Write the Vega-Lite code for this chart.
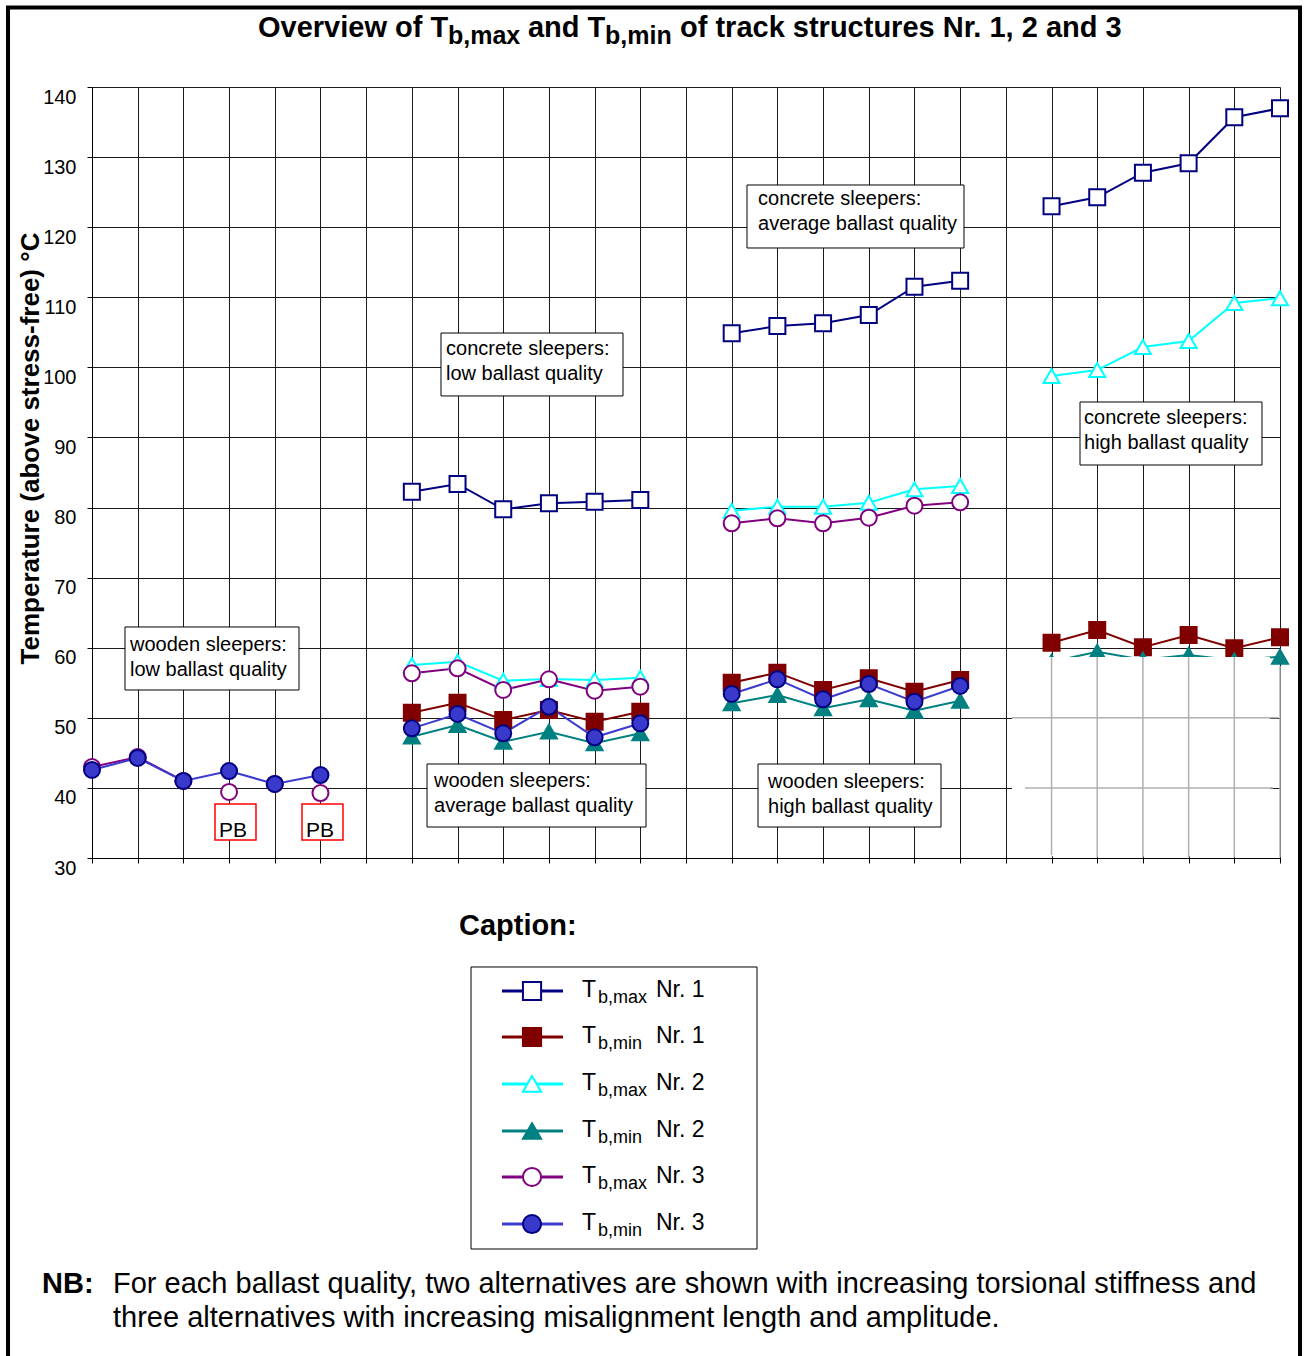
{
  "$schema": "https://vega.github.io/schema/vega-lite/v6.json",
  "width": 1188,
  "height": 771,
  "autosize": {"type": "none"},
  "padding": {"left": 92, "top": 87, "right": 29, "bottom": 498},
  "background": "white",
  "resolve": {"axis": {"x": "independent", "y": "independent"}},
  "config": {
    "font": "Liberation Sans",
    "view": {"stroke": null},
    "axis": {
      "gridColor": "#1a1a1a", "gridOpacity": 1, "gridWidth": 1,
      "domainColor": "#000", "domainWidth": 1,
      "tickColor": "#000", "tickSize": 5,
      "labelColor": "#000", "labelFont": "Liberation Sans",
      "titleColor": "#000", "titleFont": "Liberation Sans"
    }
  },
  "datasets": {
    "pts": [
      {"s": "Tb,max Nr. 1", "g": "2", "x": 7, "v": 82.26}, {"s": "Tb,max Nr. 1", "g": "2", "x": 8, "v": 83.36}, {"s": "Tb,max Nr. 1", "g": "2", "x": 9, "v": 79.75}, {"s": "Tb,max Nr. 1", "g": "2", "x": 10, "v": 80.6}, {"s": "Tb,max Nr. 1", "g": "2", "x": 11, "v": 80.84}, {"s": "Tb,max Nr. 1", "g": "2", "x": 12, "v": 81.08},
      {"s": "Tb,max Nr. 1", "g": "3", "x": 14, "v": 104.86}, {"s": "Tb,max Nr. 1", "g": "3", "x": 15, "v": 105.9}, {"s": "Tb,max Nr. 1", "g": "3", "x": 16, "v": 106.29}, {"s": "Tb,max Nr. 1", "g": "3", "x": 17, "v": 107.47}, {"s": "Tb,max Nr. 1", "g": "3", "x": 18, "v": 111.51}, {"s": "Tb,max Nr. 1", "g": "3", "x": 19, "v": 112.37},
      {"s": "Tb,max Nr. 1", "g": "4", "x": 21, "v": 123.0}, {"s": "Tb,max Nr. 1", "g": "4", "x": 22, "v": 124.26}, {"s": "Tb,max Nr. 1", "g": "4", "x": 23, "v": 127.77}, {"s": "Tb,max Nr. 1", "g": "4", "x": 24, "v": 129.11}, {"s": "Tb,max Nr. 1", "g": "4", "x": 25, "v": 135.68}, {"s": "Tb,max Nr. 1", "g": "4", "x": 26, "v": 136.96},
      {"s": "Tb,min Nr. 1", "g": "2", "x": 7, "v": 50.73}, {"s": "Tb,min Nr. 1", "g": "2", "x": 8, "v": 52.16}, {"s": "Tb,min Nr. 1", "g": "2", "x": 9, "v": 49.69}, {"s": "Tb,min Nr. 1", "g": "2", "x": 10, "v": 51.12}, {"s": "Tb,min Nr. 1", "g": "2", "x": 11, "v": 49.45}, {"s": "Tb,min Nr. 1", "g": "2", "x": 12, "v": 50.87},
      {"s": "Tb,min Nr. 1", "g": "3", "x": 14, "v": 55.01}, {"s": "Tb,min Nr. 1", "g": "3", "x": 15, "v": 56.44}, {"s": "Tb,min Nr. 1", "g": "3", "x": 16, "v": 53.97}, {"s": "Tb,min Nr. 1", "g": "3", "x": 17, "v": 55.64}, {"s": "Tb,min Nr. 1", "g": "3", "x": 18, "v": 53.73}, {"s": "Tb,min Nr. 1", "g": "3", "x": 19, "v": 55.4},
      {"s": "Tb,min Nr. 1", "g": "4", "x": 21, "v": 60.72}, {"s": "Tb,min Nr. 1", "g": "4", "x": 22, "v": 62.53}, {"s": "Tb,min Nr. 1", "g": "4", "x": 23, "v": 60.06}, {"s": "Tb,min Nr. 1", "g": "4", "x": 24, "v": 61.82}, {"s": "Tb,min Nr. 1", "g": "4", "x": 25, "v": 59.92}, {"s": "Tb,min Nr. 1", "g": "4", "x": 26, "v": 61.49},
      {"s": "Tb,max Nr. 2", "g": "2", "x": 7, "v": 57.54}, {"s": "Tb,max Nr. 2", "g": "2", "x": 8, "v": 58.0}, {"s": "Tb,max Nr. 2", "g": "2", "x": 9, "v": 55.3}, {"s": "Tb,max Nr. 2", "g": "2", "x": 10, "v": 55.54}, {"s": "Tb,max Nr. 2", "g": "2", "x": 11, "v": 55.4}, {"s": "Tb,max Nr. 2", "g": "2", "x": 12, "v": 55.72},
      {"s": "Tb,max Nr. 2", "g": "3", "x": 14, "v": 79.55}, {"s": "Tb,max Nr. 2", "g": "3", "x": 15, "v": 80.12}, {"s": "Tb,max Nr. 2", "g": "3", "x": 16, "v": 80.12}, {"s": "Tb,max Nr. 2", "g": "3", "x": 17, "v": 80.69}, {"s": "Tb,max Nr. 2", "g": "3", "x": 18, "v": 82.6}, {"s": "Tb,max Nr. 2", "g": "3", "x": 19, "v": 83.07},
      {"s": "Tb,max Nr. 2", "g": "4", "x": 21, "v": 98.77}, {"s": "Tb,max Nr. 2", "g": "4", "x": 22, "v": 99.62}, {"s": "Tb,max Nr. 2", "g": "4", "x": 23, "v": 102.9}, {"s": "Tb,max Nr. 2", "g": "4", "x": 24, "v": 103.76}, {"s": "Tb,max Nr. 2", "g": "4", "x": 25, "v": 109.18}, {"s": "Tb,max Nr. 2", "g": "4", "x": 26, "v": 109.86},
      {"s": "Tb,min Nr. 2", "g": "2", "x": 7, "v": 47.31}, {"s": "Tb,min Nr. 2", "g": "2", "x": 8, "v": 48.98}, {"s": "Tb,min Nr. 2", "g": "2", "x": 9, "v": 46.59}, {"s": "Tb,min Nr. 2", "g": "2", "x": 10, "v": 48.02}, {"s": "Tb,min Nr. 2", "g": "2", "x": 11, "v": 46.36}, {"s": "Tb,min Nr. 2", "g": "2", "x": 12, "v": 47.79},
      {"s": "Tb,min Nr. 2", "g": "3", "x": 14, "v": 52.07}, {"s": "Tb,min Nr. 2", "g": "3", "x": 15, "v": 53.26}, {"s": "Tb,min Nr. 2", "g": "3", "x": 16, "v": 51.36}, {"s": "Tb,min Nr. 2", "g": "3", "x": 17, "v": 52.64}, {"s": "Tb,min Nr. 2", "g": "3", "x": 18, "v": 51.01}, {"s": "Tb,min Nr. 2", "g": "3", "x": 19, "v": 52.44},
      {"s": "Tb,min Nr. 2", "g": "4", "x": 21, "v": 58.0}, {"s": "Tb,min Nr. 2", "g": "4", "x": 22, "v": 59.43}, {"s": "Tb,min Nr. 2", "g": "4", "x": 23, "v": 58.3}, {"s": "Tb,min Nr. 2", "g": "4", "x": 24, "v": 58.96}, {"s": "Tb,min Nr. 2", "g": "4", "x": 25, "v": 58.2}, {"s": "Tb,min Nr. 2", "g": "4", "x": 26, "v": 58.72},
      {"s": "Tb,max Nr. 3", "g": "1", "x": 0, "v": 42.98}, {"s": "Tb,max Nr. 3", "g": "1", "x": 1, "v": 44.41}, {"s": "Tb,max Nr. 3", "g": "1", "x": 2, "v": 40.99}, {"s": "Tb,max Nr. 3", "g": "pb3", "x": 3, "v": 39.42}, {"s": "Tb,max Nr. 3", "g": "e4", "x": 4, "v": 40.56}, {"s": "Tb,max Nr. 3", "g": "pb5", "x": 5, "v": 39.27},
      {"s": "Tb,max Nr. 3", "g": "2", "x": 7, "v": 56.35}, {"s": "Tb,max Nr. 3", "g": "2", "x": 8, "v": 57.06}, {"s": "Tb,max Nr. 3", "g": "2", "x": 9, "v": 53.97}, {"s": "Tb,max Nr. 3", "g": "2", "x": 10, "v": 55.5}, {"s": "Tb,max Nr. 3", "g": "2", "x": 11, "v": 53.87}, {"s": "Tb,max Nr. 3", "g": "2", "x": 12, "v": 54.44},
      {"s": "Tb,max Nr. 3", "g": "3", "x": 14, "v": 77.75}, {"s": "Tb,max Nr. 3", "g": "3", "x": 15, "v": 78.47}, {"s": "Tb,max Nr. 3", "g": "3", "x": 16, "v": 77.75}, {"s": "Tb,max Nr. 3", "g": "3", "x": 17, "v": 78.55}, {"s": "Tb,max Nr. 3", "g": "3", "x": 18, "v": 80.26}, {"s": "Tb,max Nr. 3", "g": "3", "x": 19, "v": 80.75},
      {"s": "Tb,min Nr. 3", "g": "1", "x": 0, "v": 42.56}, {"s": "Tb,min Nr. 3", "g": "1", "x": 1, "v": 44.27}, {"s": "Tb,min Nr. 3", "g": "1", "x": 2, "v": 40.99}, {"s": "Tb,min Nr. 3", "g": "1", "x": 3, "v": 42.41}, {"s": "Tb,min Nr. 3", "g": "1", "x": 4, "v": 40.56}, {"s": "Tb,min Nr. 3", "g": "1", "x": 5, "v": 41.84},
      {"s": "Tb,min Nr. 3", "g": "2", "x": 7, "v": 48.5}, {"s": "Tb,min Nr. 3", "g": "2", "x": 8, "v": 50.55}, {"s": "Tb,min Nr. 3", "g": "2", "x": 9, "v": 47.79}, {"s": "Tb,min Nr. 3", "g": "2", "x": 10, "v": 51.59}, {"s": "Tb,min Nr. 3", "g": "2", "x": 11, "v": 47.22}, {"s": "Tb,min Nr. 3", "g": "2", "x": 12, "v": 49.22},
      {"s": "Tb,min Nr. 3", "g": "3", "x": 14, "v": 53.4}, {"s": "Tb,min Nr. 3", "g": "3", "x": 15, "v": 55.5}, {"s": "Tb,min Nr. 3", "g": "3", "x": 16, "v": 52.64}, {"s": "Tb,min Nr. 3", "g": "3", "x": 17, "v": 54.82}, {"s": "Tb,min Nr. 3", "g": "3", "x": 18, "v": 52.3}, {"s": "Tb,min Nr. 3", "g": "3", "x": 19, "v": 54.54}
    ],
    "legend": [
      {"s": "Tb,max Nr. 1", "sub": "b,max", "nr": "Nr. 1", "ly": 11.02},
      {"s": "Tb,min Nr. 1", "sub": "b,min", "nr": "Nr. 1", "ly": 4.46},
      {"s": "Tb,max Nr. 2", "sub": "b,max", "nr": "Nr. 2", "ly": -2.24},
      {"s": "Tb,min Nr. 2", "sub": "b,min", "nr": "Nr. 2", "ly": -8.95},
      {"s": "Tb,max Nr. 3", "sub": "b,max", "nr": "Nr. 3", "ly": -15.51},
      {"s": "Tb,min Nr. 3", "sub": "b,min", "nr": "Nr. 3", "ly": -22.22}
    ],
    "boxes": [
      {"label": "wooden sleepers:\nlow ballast quality", "x1": 0.722, "x2": 4.53, "y1": 62.96, "y2": 53.97, "tx": 0.832, "ty": 59.53},
      {"label": "concrete sleepers:\nlow ballast quality", "x1": 7.638, "x2": 11.621, "y1": 104.9, "y2": 95.92, "tx": 7.748, "ty": 101.76},
      {"label": "concrete sleepers:\naverage ballast quality", "x1": 14.335, "x2": 19.084, "y1": 126.02, "y2": 117.03, "tx": 14.576, "ty": 123.17},
      {"label": "concrete sleepers:\nhigh ballast quality", "x1": 21.623, "x2": 25.606, "y1": 95.06, "y2": 86.07, "tx": 21.711, "ty": 91.92},
      {"label": "wooden sleepers:\naverage ballast quality", "x1": 7.332, "x2": 12.125, "y1": 43.41, "y2": 34.42, "tx": 7.485, "ty": 40.13},
      {"label": "wooden sleepers:\nhigh ballast quality", "x1": 14.576, "x2": 18.581, "y1": 43.41, "y2": 34.42, "tx": 14.795, "ty": 39.99}
    ],
    "pb": [
      {"label": "PB", "x1": 2.692, "x2": 3.589, "y1": 37.7, "y2": 32.57, "tx": 2.779, "ty": 33.0},
      {"label": "PB", "x1": 4.596, "x2": 5.493, "y1": 37.7, "y2": 32.57, "tx": 4.683, "ty": 33.0}
    ],
    "graylines": [
      {"x": 21, "x2": 21, "y": 30.4, "y2": 58.68},
      {"x": 22, "x2": 22, "y": 30.1, "y2": 58.68},
      {"x": 23, "x2": 23, "y": 30.1, "y2": 58.68},
      {"x": 24, "x2": 24, "y": 30.1, "y2": 58.68},
      {"x": 25, "x2": 25, "y": 30.1, "y2": 58.68},
      {"x": 26, "x2": 26, "y": 30.1, "y2": 57.4},
      {"x": 20.135, "x2": 25.96, "y": 50, "y2": 50},
      {"x": 20.42, "x2": 25.85, "y": 40, "y2": 40}
    ],
    "title_main": [
      {"t": "Overview of T", "x": 3.633},
      {"t": "and T", "x": 9.542},
      {"t": "of track structures Nr. 1, 2 and 3", "x": 12.869}
    ],
    "title_sub": [
      {"t": "b,max", "x": 7.791},
      {"t": "b,min", "x": 11.228}
    ]
  },
  "layer": [
    {
      "data": {"name": "pts"},
      "mark": {"type": "line", "strokeWidth": 2},
      "encoding": {
        "x": {"field": "x", "type": "quantitative", "scale": {"domain": [0, 26], "nice": false, "zero": false},
              "axis": {"values": [0,1,2,3,4,5,6,7,8,9,10,11,12,13,14,15,16,17,18,19,20,21,22,23,24,25,26], "labels": false, "title": null, "grid": true, "ticks": true, "domain": true}},
        "y": {"field": "v", "type": "quantitative", "scale": {"domain": [30, 140], "nice": false, "zero": false},
              "axis": {"values": [30,40,50,60,70,80,90,100,110,120,130,140], "grid": true, "labelFontSize": 20, "labelPadding": 11, "labelOffset": 10, "labelOverlap": false,
                       "title": "Temperature (above stress-free) °C", "titleFontSize": 26, "titleFontWeight": "bold",
                       "titleX": -62, "titleY": 361, "titleAngle": 270, "titleAlign": "center", "titleBaseline": "middle"}},
        "color": {"field": "s", "type": "nominal", "legend": null,
                  "scale": {"domain": ["Tb,max Nr. 1", "Tb,min Nr. 1", "Tb,max Nr. 2", "Tb,min Nr. 2", "Tb,max Nr. 3", "Tb,min Nr. 3"],
                            "range": ["#000080", "#800000", "#00FFFF", "#008080", "#800080", "#3b3bd0"]}},
        "detail": {"field": "g"}
      }
    },
    {
      "data": {"name": "boxes"},
      "mark": {"type": "rect", "fill": "white", "stroke": "#000", "strokeWidth": 1},
      "encoding": {
        "x": {"field": "x1", "type": "quantitative", "axis": null},
        "x2": {"field": "x2"},
        "y": {"field": "y1", "type": "quantitative", "axis": null},
        "y2": {"field": "y2"}
      }
    },
    {
      "data": {"name": "pb"},
      "mark": {"type": "rect", "fill": "white", "stroke": "#ff0000", "strokeWidth": 1.5},
      "encoding": {
        "x": {"field": "x1", "type": "quantitative", "axis": null},
        "x2": {"field": "x2"},
        "y": {"field": "y1", "type": "quantitative", "axis": null},
        "y2": {"field": "y2"}
      }
    },
    {
      "data": {"name": "pts"},
      "mark": {"type": "point", "filled": true, "strokeWidth": 2, "opacity": 1},
      "encoding": {
        "x": {"field": "x", "type": "quantitative", "axis": null},
        "y": {"field": "v", "type": "quantitative", "axis": null},
        "shape": {"field": "s", "type": "nominal", "legend": null,
                  "scale": {"domain": ["Tb,max Nr. 1", "Tb,min Nr. 1", "Tb,max Nr. 2", "Tb,min Nr. 2", "Tb,max Nr. 3", "Tb,min Nr. 3"],
                            "range": ["square", "square", "triangle-up", "triangle-up", "circle", "circle"]}},
        "fill": {"field": "s", "type": "nominal", "legend": null,
                 "scale": {"domain": ["Tb,max Nr. 1", "Tb,min Nr. 1", "Tb,max Nr. 2", "Tb,min Nr. 2", "Tb,max Nr. 3", "Tb,min Nr. 3"],
                           "range": ["#ffffff", "#800000", "#ffffff", "#008080", "#ffffff", "#3939cc"]}},
        "stroke": {"field": "s", "type": "nominal", "legend": null,
                   "scale": {"domain": ["Tb,max Nr. 1", "Tb,min Nr. 1", "Tb,max Nr. 2", "Tb,min Nr. 2", "Tb,max Nr. 3", "Tb,min Nr. 3"],
                             "range": ["#000080", "#800000", "#00FFFF", "#008080", "#800080", "#000080"]}},
        "size": {"field": "s", "type": "nominal", "legend": null,
                 "scale": {"domain": ["Tb,max Nr. 1", "Tb,min Nr. 1", "Tb,max Nr. 2", "Tb,min Nr. 2", "Tb,max Nr. 3", "Tb,min Nr. 3"],
                           "range": [256, 256, 260, 260, 240, 225]}}
      }
    },
    {
      "data": {"values": [{}]},
      "mark": {"type": "rect", "fill": "white", "stroke": null},
      "encoding": {
        "x": {"datum": 20.135, "type": "quantitative", "axis": null},
        "x2": {"datum": 25.78},
        "y": {"datum": 30.25, "type": "quantitative", "axis": null},
        "y2": {"datum": 58.68}
      }
    },
    {
      "data": {"name": "graylines"},
      "mark": {"type": "rule", "color": "#b0b0b0", "strokeWidth": 1.5},
      "encoding": {
        "x": {"field": "x", "type": "quantitative", "axis": null},
        "x2": {"field": "x2"},
        "y": {"field": "y", "type": "quantitative", "axis": null},
        "y2": {"field": "y2"}
      }
    },
    {
      "data": {"name": "boxes"},
      "mark": {"type": "text", "align": "left", "baseline": "alphabetic", "fontSize": 20, "lineHeight": 25, "lineBreak": "\n", "color": "#000"},
      "encoding": {
        "x": {"field": "tx", "type": "quantitative", "axis": null},
        "y": {"field": "ty", "type": "quantitative", "axis": null},
        "text": {"field": "label"}
      }
    },
    {
      "data": {"name": "pb"},
      "mark": {"type": "text", "align": "left", "baseline": "alphabetic", "fontSize": 21, "color": "#000"},
      "encoding": {
        "x": {"field": "tx", "type": "quantitative", "axis": null},
        "y": {"field": "ty", "type": "quantitative", "axis": null},
        "text": {"field": "label"}
      }
    },
    {
      "data": {"name": "title_main"},
      "mark": {"type": "text", "align": "left", "baseline": "alphabetic", "fontSize": 29, "fontWeight": "bold", "color": "#000"},
      "encoding": {
        "x": {"field": "x", "type": "quantitative", "axis": null},
        "y": {"datum": 147.14, "type": "quantitative", "axis": null},
        "text": {"field": "t"}
      }
    },
    {
      "data": {"name": "title_sub"},
      "mark": {"type": "text", "align": "left", "baseline": "alphabetic", "fontSize": 25, "fontWeight": "bold", "color": "#000"},
      "encoding": {
        "x": {"field": "x", "type": "quantitative", "axis": null},
        "y": {"datum": 146.14, "type": "quantitative", "axis": null},
        "text": {"field": "t"}
      }
    },
    {
      "data": {"values": [{"t": "Caption:"}]},
      "mark": {"type": "text", "align": "left", "baseline": "alphabetic", "fontSize": 29, "fontWeight": "bold", "color": "#000"},
      "encoding": {
        "x": {"datum": 8.032, "type": "quantitative", "axis": null},
        "y": {"datum": 19.01, "type": "quantitative", "axis": null},
        "text": {"field": "t"}
      }
    },
    {
      "data": {"values": [{}]},
      "mark": {"type": "rect", "fill": "white", "stroke": "#000", "strokeWidth": 1},
      "encoding": {
        "x": {"datum": 8.295, "type": "quantitative", "axis": null},
        "x2": {"datum": 14.554},
        "y": {"datum": 14.449, "type": "quantitative", "axis": null},
        "y2": {"datum": -25.785}
      }
    },
    {
      "data": {"name": "legend"},
      "mark": {"type": "rule", "strokeWidth": 3},
      "encoding": {
        "x": {"datum": 8.973, "type": "quantitative", "axis": null},
        "x2": {"datum": 10.308},
        "y": {"field": "ly", "type": "quantitative", "axis": null},
        "color": {"field": "s", "type": "nominal", "legend": null}
      }
    },
    {
      "data": {"name": "legend"},
      "mark": {"type": "point", "filled": true, "strokeWidth": 2, "opacity": 1, "size": 330},
      "encoding": {
        "x": {"datum": 9.63, "type": "quantitative", "axis": null},
        "y": {"field": "ly", "type": "quantitative", "axis": null},
        "shape": {"field": "s", "type": "nominal", "legend": null},
        "fill": {"field": "s", "type": "nominal", "legend": null},
        "stroke": {"field": "s", "type": "nominal", "legend": null}
      }
    },
    {
      "data": {"name": "legend"},
      "mark": {"type": "text", "align": "left", "baseline": "alphabetic", "fontSize": 23, "dy": 6, "color": "#000", "text": "T"},
      "encoding": {
        "x": {"datum": 10.724, "type": "quantitative", "axis": null},
        "y": {"field": "ly", "type": "quantitative", "axis": null}
      }
    },
    {
      "data": {"name": "legend"},
      "mark": {"type": "text", "align": "left", "baseline": "alphabetic", "fontSize": 18, "dy": 12, "color": "#000"},
      "encoding": {
        "x": {"datum": 11.074, "type": "quantitative", "axis": null},
        "y": {"field": "ly", "type": "quantitative", "axis": null},
        "text": {"field": "sub"}
      }
    },
    {
      "data": {"name": "legend"},
      "mark": {"type": "text", "align": "left", "baseline": "alphabetic", "fontSize": 23, "dy": 6, "color": "#000"},
      "encoding": {
        "x": {"datum": 12.343, "type": "quantitative", "axis": null},
        "y": {"field": "ly", "type": "quantitative", "axis": null},
        "text": {"field": "nr"}
      }
    },
    {
      "data": {"values": [{"t": "NB:"}]},
      "mark": {"type": "text", "align": "left", "baseline": "alphabetic", "fontSize": 29, "fontWeight": "bold", "color": "#000"},
      "encoding": {
        "x": {"datum": -1.094, "type": "quantitative", "axis": null},
        "y": {"datum": -32.06, "type": "quantitative", "axis": null},
        "text": {"field": "t"}
      }
    },
    {
      "data": {"values": [{"t": "For each ballast quality, two alternatives are shown with increasing torsional stiffness and\nthree alternatives with increasing misalignment length and amplitude."}]},
      "mark": {"type": "text", "align": "left", "baseline": "alphabetic", "fontSize": 29, "lineHeight": 34, "lineBreak": "\n", "color": "#000"},
      "encoding": {
        "x": {"datum": 0.46, "type": "quantitative", "axis": null},
        "y": {"datum": -32.06, "type": "quantitative", "axis": null},
        "text": {"field": "t"}
      }
    },
    {
      "data": {"values": [{}]},
      "mark": {"type": "rect", "fillOpacity": 0, "fill": "white", "stroke": "#000", "strokeWidth": 4},
      "encoding": {
        "x": {"datum": -1.838, "type": "quantitative", "axis": null},
        "x2": {"datum": 26.438},
        "y": {"datum": 151.34, "type": "quantitative", "axis": null},
        "y2": {"datum": -47.3}
      }
    }
  ]
}
